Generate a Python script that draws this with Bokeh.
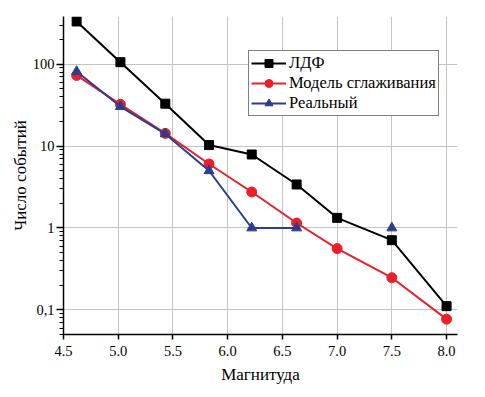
import numpy as np
from bokeh.plotting import figure
from bokeh.models import FixedTicker, NumeralTickFormatter, CustomJSTickFormatter
from bokeh.embed import file_html
from bokeh.resources import INLINE

magnitude = [4.62, 5.02, 5.43, 5.83, 6.22, 6.63, 7.0, 7.5, 8.0]
ldf = [333, 106, 33, 10.3, 7.9, 3.4, 1.33, 0.71, 0.111]
smooth = [73, 32.4, 14.3, 6.05, 2.75, 1.15, 0.56, 0.247, 0.077]
real = [81.5, 30.4, 14.1, 5.0, 1.0, 1.0, np.nan, 1.0, np.nan]
x_ticks = [4.5, 5.0, 5.5, 6.0, 6.5, 7.0, 7.5, 8.0]

FONT = "Liberation Serif"

p = figure(frame_width=394, frame_height=318, y_axis_type="log",
           x_range=(4.5, 8.1), y_range=(0.05, 383),
           output_backend="svg", toolbar_location=None,
           min_border_left=63, min_border_top=16, min_border_right=8, min_border_bottom=42)
p.outline_line_color = None

BLACK = "#000000"
RED = "#e8202a"
BLUE = "#2c3d8f"

p.line(magnitude, ldf, color=BLACK, line_width=2, legend_label="ЛДФ")
p.scatter(magnitude, ldf, marker="square", size=9, color=BLACK, legend_label="ЛДФ")
p.line(magnitude, smooth, color=RED, line_width=2, legend_label="Модель сглаживания")
p.scatter(magnitude, smooth, marker="circle", size=10, color=RED, legend_label="Модель сглаживания")
p.line(magnitude, real, color=BLUE, line_width=2, legend_label="Реальный")
p.scatter(magnitude, real, marker="triangle", size=10, color=BLUE, legend_label="Реальный")

p.xaxis.ticker = FixedTicker(ticks=x_ticks)
p.xaxis.formatter = NumeralTickFormatter(format="0.0")
p.xaxis.minor_tick_line_color = None
p.yaxis.formatter = CustomJSTickFormatter(code="""
    if (tick < 1) { return tick.toPrecision(1).replace('.', ','); }
    return Math.round(tick).toString();
""")
for ax in (p.xaxis, p.yaxis):
    ax.axis_line_width = 1.5
    ax.axis_line_color = "black"
    ax.major_tick_line_color = "black"
    ax.major_tick_line_width = 1.5
    ax.major_tick_in = 0
    ax.major_label_text_font = FONT
    ax.major_label_text_font_size = "14.5px"
    ax.major_label_text_color = "black"
    ax.axis_label_text_font = FONT
    ax.axis_label_text_font_size = "17px"
    ax.axis_label_text_font_style = "normal"
    ax.axis_label_text_color = "black"
p.xaxis.major_tick_out = 5
p.yaxis.major_tick_out = 7
p.xaxis.major_label_standoff = 6
p.xaxis.axis_label_standoff = 6
p.yaxis.major_label_standoff = 2
p.yaxis.axis_label_standoff = 0
p.yaxis.minor_tick_out = 4
p.yaxis.minor_tick_in = 0
p.yaxis.minor_tick_line_color = "black"
p.yaxis.minor_tick_line_width = 1.2
p.xaxis.axis_label = "Магнитуда"
p.yaxis.axis_label = "Число событий"

p.xgrid.ticker = FixedTicker(ticks=x_ticks[1:])
p.xgrid.grid_line_color = "#c4c4c4"
p.ygrid.grid_line_color = "#c4c4c4"

leg = p.legend[0]
leg.location = (185, 218)
leg.label_text_font = FONT
leg.label_text_font_size = "16.5px"
leg.label_text_color = "black"
leg.border_line_color = "black"
leg.border_line_width = 1
leg.glyph_width = 35
leg.glyph_height = 20
leg.label_height = 20
leg.label_standoff = 3
leg.padding = 2
leg.spacing = 0
leg.margin = 0
leg.background_fill_alpha = 1

open("out.html", "w").write(file_html(p, INLINE))
